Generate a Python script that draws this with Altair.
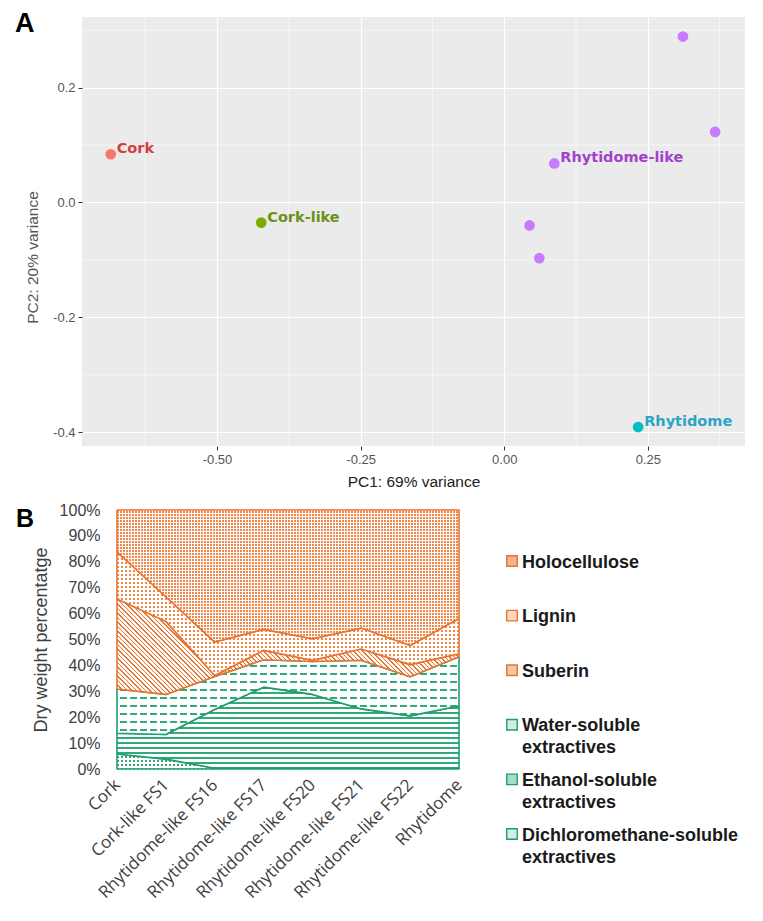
import math
import altair as alt
import pandas as pd

# ---------------- Panel A data (PCA) ----------------
pca_group = ["Cork", "Cork-like", "Rhytidome-like", "Rhytidome-like",
             "Rhytidome-like", "Rhytidome-like", "Rhytidome-like", "Rhytidome"]
pc1 = [-0.685, -0.423, 0.311, 0.367, 0.087, 0.044, 0.061, 0.233]
pc2 = [0.084, -0.035, 0.289, 0.123, 0.068, -0.040, -0.097, -0.391]
pca_label = ["Cork", "Cork-like", "", "", "Rhytidome-like", "", "", "Rhytidome"]
group_order = ["Cork", "Cork-like", "Rhytidome", "Rhytidome-like"]
point_colors = ["#F8766D", "#7CAE00", "#00BFC4", "#C77CFF"]
label_colors = ["#D2403C", "#6A9216", "#2AA6C4", "#A440CC"]
x_ticks = [-0.5, -0.25, 0.0, 0.25]
y_ticks = [-0.4, -0.2, 0.0, 0.2]
x_minor = [-0.625, -0.375, -0.125, 0.125, 0.375]
y_minor = [-0.3, -0.1, 0.1, 0.3]

# ---------------- Panel B data (composition, % dry weight) ----------------
samples = ["Cork", "Cork-like FS1", "Rhytidome-like FS16", "Rhytidome-like FS17",
           "Rhytidome-like FS20", "Rhytidome-like FS21", "Rhytidome-like FS22", "Rhytidome"]
dcm = [5.8, 3.8, 0.3, 0.3, 0.3, 0.3, 0.3, 0.3]
ethanol = [8.0, 9.5, 22.7, 31.3, 28.5, 22.9, 20.2, 24.0]
water = [17.1, 15.5, 12.7, 10.6, 12.7, 18.8, 15.1, 19.0]
suberin = [34.7, 28.2, 0.4, 3.6, 0.5, 4.3, 4.7, 1.2]
lignin = [18.2, 9.5, 12.9, 8.1, 8.3, 8.1, 7.4, 13.6]
holocellulose = [16.2, 33.5, 51.0, 46.1, 49.7, 45.6, 52.3, 41.9]
series_names = ["Dichloromethane-soluble extractives", "Ethanol-soluble extractives",
                "Water-soluble extractives", "Suberin", "Lignin", "Holocellulose"]
series_values = [dcm, ethanol, water, suberin, lignin, holocellulose]
legend_labels = ["Holocellulose", "Lignin", "Suberin", "Water-soluble\nextractives",
                 "Ethanol-soluble\nextractives", "Dichloromethane-soluble\nextractives"]

ORANGE = "#E8742F"
ORANGE_PAT = "#EE8A4C"
GREEN = "#1F9E6E"
GREEN_PAT = "#33A97C"
WHITE = "#FFFFFF"
CLEAR = "rgba(255,255,255,0)"

# ---------------- tables ----------------
pca_df = pd.DataFrame({"pc1": pc1, "pc2": pc2, "group": pca_group, "label": pca_label})

rows = []
cum = [0.0] * len(samples)
for name, vals in zip(series_names, series_values):
    for i, s in enumerate(samples):
        lo = cum[i]
        hi = cum[i] + vals[i]
        rows.append({"sample": s, "series": name, "lo": lo, "hi": hi})
        cum[i] = hi
comp_df = pd.DataFrame(rows)

# ---------------- Panel A ----------------
A_W, A_H = 663, 429
xs = alt.Scale(domain=[-0.735, 0.419], nice=False, zero=False)
ys = alt.Scale(domain=[-0.424, 0.323], nice=False, zero=False)
x_axis = alt.Axis(values=x_ticks, title="PC1: 69% variance",
                  labelExpr="replace(format(datum.value, '.2f'), '\u2212', '-')",
                  grid=True, gridColor="white", gridWidth=1.2, domain=False,
                  tickColor="#333333", tickSize=4, tickWidth=1,
                  labelFont="Liberation Sans", labelFontSize=13, labelColor="#555555",
                  labelPadding=3, titleFont="Liberation Sans", titleFontSize=15.5,
                  titleFontWeight="normal", titleColor="#222222", titlePadding=8)
y_axis = alt.Axis(values=y_ticks, title="PC2: 20% variance",
                  labelExpr="replace(format(datum.value, '.1f'), '\u2212', '-')",
                  grid=True, gridColor="white", gridWidth=1.2, domain=False,
                  tickColor="#333333", tickSize=4, tickWidth=1,
                  labelFont="Liberation Sans", labelFontSize=13, labelColor="#555555",
                  labelPadding=3, titleFont="Liberation Sans", titleFontSize=15.5,
                  titleFontWeight="normal", titleColor="#555555", titlePadding=12,
                  titleY=240)

minor_x = alt.Chart(pd.DataFrame({"mx": x_minor})).mark_rule(
    color="white", strokeWidth=0.6).encode(x=alt.X("mx:Q", scale=xs, axis=x_axis))
minor_y = alt.Chart(pd.DataFrame({"my": y_minor})).mark_rule(
    color="white", strokeWidth=0.6).encode(y=alt.Y("my:Q", scale=ys, axis=y_axis))

pts = alt.Chart(pca_df).mark_circle(size=115, opacity=1).encode(
    x=alt.X("pc1:Q", scale=xs, axis=x_axis),
    y=alt.Y("pc2:Q", scale=ys, axis=y_axis),
    color=alt.Color("group:N", scale=alt.Scale(domain=group_order, range=point_colors), legend=None),
)
labs = alt.Chart(pca_df).mark_text(
    align="left", baseline="middle", dx=6, dy=-5, font="DejaVu Sans",
    fontWeight="bold", fontSize=14.5).encode(
    x=alt.X("pc1:Q", scale=xs, axis=x_axis),
    y=alt.Y("pc2:Q", scale=ys, axis=y_axis),
    text="label:N",
    color=alt.Color("group:N", scale=alt.Scale(domain=group_order, range=label_colors), legend=None),
)
letterA = alt.Chart(pd.DataFrame({"t": ["A"]})).mark_text(
    align="left", baseline="alphabetic", font="Liberation Sans", fontWeight="bold",
    fontSize=27, color="black").encode(text="t:N", x=alt.value(-67), y=alt.value(15))

chartA = alt.layer(minor_x, minor_y, pts, labs, letterA).resolve_scale(
    color="independent").properties(
    width=A_W, height=A_H, view=alt.ViewBackground(fill="#EBEBEB", stroke=None))

# ---------------- Panel B ----------------
B_W, B_H = 377, 259
X0 = 35
PLOT_W = B_W - X0
PX_PER = B_H / 100.0


def grad(on, off, n, frac, x1, y1, x2, y2):
    stops = []
    for i in range(n):
        a = round(i / n, 6)
        m = round((i + frac) / n, 6)
        b = round((i + 1) / n, 6)
        stops += [alt.GradientStop(color=on, offset=a), alt.GradientStop(color=on, offset=m),
                  alt.GradientStop(color=off, offset=m), alt.GradientStop(color=off, offset=b)]
    return alt.LinearGradient(gradient="linear", stops=stops, x1=x1, y1=y1, x2=x2, y2=y2)


def bbox_h(name):
    d = comp_df[comp_df.series == name]
    return max(2.0, (d.hi.max() - d.lo.min()) * PX_PER)


def vert(on, off, p, frac):
    n = math.ceil(PLOT_W / p)
    k = n * p / PLOT_W
    return grad(on, off, n, frac, 0, 0, round(k, 6), 0)


def horiz(name, on, off, p, frac):
    H = bbox_h(name)
    n = math.ceil(H / p)
    k = n * p / H
    return grad(on, off, n, frac, 0, 0, 0, round(k, 6))


def diag(name, on, off, p, frac):
    H = bbox_h(name)
    W = PLOT_W
    r = H / W
    s = (1 + r) / (1 + r * r)
    n = math.ceil((W + H) / p)
    k = n * p / (W + H)
    return grad(on, off, n, frac, 0, 1, round(s * k, 6), round(1 - s * r * k, 6))


DCM, ETH, WAT = series_names[0], series_names[1], series_names[2]
fills = {
    DCM: [vert(GREEN_PAT, WHITE, 4, 0.5), horiz(DCM, WHITE, CLEAR, 4, 0.5)],
    ETH: [horiz(ETH, GREEN_PAT, WHITE, 5, 0.4)],
    WAT: [horiz(WAT, GREEN_PAT, WHITE, 8, 0.25), vert(WHITE, CLEAR, 10, 0.3)],
    "Suberin": [diag("Suberin", ORANGE, WHITE, 4.5, 0.42)],
    "Lignin": [vert(ORANGE_PAT, WHITE, 4, 0.5), horiz("Lignin", WHITE, CLEAR, 4, 0.5)],
    "Holocellulose": [vert(ORANGE_PAT, WHITE, 3, 0.667), horiz("Holocellulose", WHITE, CLEAR, 3, 0.333)],
}
stroke_col = {n: (GREEN if "extractives" in n else ORANGE) for n in series_names}

bx = alt.X("sample:N", sort=samples, scale=alt.Scale(range=[X0, B_W], padding=0),
           axis=alt.Axis(labelAngle=-45, labelAlign="right", labelBaseline="middle",
                         labelFont="Open Sans", labelFontSize=17, labelColor="#404040",
                         labelPadding=13, labelLimit=300, labelOverlap=False,
                         domain=False, ticks=False, grid=False, title=None))
by = alt.Y("hi:Q", scale=alt.Scale(domain=[0, 100], nice=False),
           axis=alt.Axis(values=list(range(0, 101, 10)), labelExpr="datum.value + '%'",
                         offset=-X0, domain=False, ticks=False, grid=False, labelPadding=17,
                         labelFont="Liberation Sans", labelFontSize=16, labelColor="#404040",
                         title="Dry weight percentatge", titleFont="Liberation Sans",
                         titleFontSize=18, titleFontWeight="normal", titleColor="#404040",
                         titlePadding=9))

area_layers = []
for name in series_names:
    f = fills[name]
    for k, g in enumerate(f):
        last = k == len(f) - 1
        kw = dict(fill=g, interpolate="linear", opacity=1)
        if last:
            kw.update(stroke=stroke_col[name], strokeWidth=1.6, strokeJoin="round")
        area_layers.append(
            alt.Chart(comp_df).transform_filter(alt.datum.series == name)
            .mark_area(**kw).encode(x=bx, y=by, y2="lo:Q"))

letterB = alt.Chart(pd.DataFrame({"t": ["B"]})).mark_text(
    align="left", baseline="alphabetic", font="Liberation Sans", fontWeight="bold",
    fontSize=25, color="black").encode(text="t:N", x=alt.value(-66), y=alt.value(17))

chartB = alt.layer(*area_layers, letterB).properties(width=B_W, height=B_H)

# ---------------- Legend ----------------
leg_df = pd.DataFrame({
    "label": legend_labels,
    "key": series_names[::-1],
    "row": list(range(6)),
})
leg_fill = ["#F2B48C", "#F8D8C3", "#F4C6A8", "#D2ECE1", "#A9DAC4", "#D4EEE4"]
leg_stroke = [ORANGE, ORANGE, ORANGE, GREEN, GREEN, GREEN]
ly = alt.Y("row:Q", scale=alt.Scale(domain=[0, 5], range=[51, 324]), axis=None)
sq = alt.Chart(leg_df).mark_square(size=110, strokeWidth=1.4, opacity=1).encode(
    x=alt.value(47), y=ly,
    fill=alt.Fill("key:N", scale=alt.Scale(domain=series_names[::-1], range=leg_fill), legend=None),
    stroke=alt.Stroke("key:N", scale=alt.Scale(domain=series_names[::-1], range=leg_stroke), legend=None),
)
tx = alt.Chart(leg_df).mark_text(
    align="left", baseline="alphabetic", dy=6.5, lineBreak="\n", lineHeight=22,
    font="Liberation Sans", fontWeight="bold", fontSize=18, color="#1A1A1A").encode(
    x=alt.value(57), y=ly, text="label:N")
legend = alt.layer(sq, tx).properties(width=250, height=B_H)

chart = alt.vconcat(
    chartA,
    alt.hconcat(chartB, legend, spacing=0),
    spacing=12,
).properties(
    padding={"left": 7, "top": 2, "right": 2, "bottom": 2}
).configure_view(stroke=None)

chart.save("out.html", embed_options={"renderer": "svg", "actions": False})
